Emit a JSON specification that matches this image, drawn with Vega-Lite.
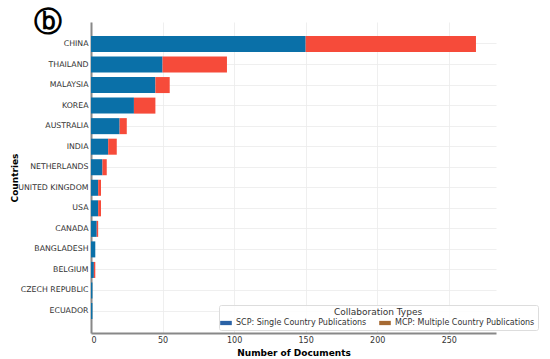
{
  "$schema": "https://vega.github.io/schema/vega-lite/v6.json",
  "autosize": "none",
  "width": 405,
  "height": 311,
  "padding": {"left": 91, "top": 22, "right": 54, "bottom": 26},
  "background": "white",
  "title": {"text": "ⓑ", "anchor": "start", "frame": "group", "dx": -57, "dy": 19, "fontSize": 28, "fontWeight": "bold", "font": "DejaVu Sans", "color": "black"},
  "data": {"values": [
    {"country": "CHINA", "type": "SCP: Single Country Publications", "value": 150},
    {"country": "CHINA", "type": "MCP: Multiple Country Publications", "value": 119},
    {"country": "THAILAND", "type": "SCP: Single Country Publications", "value": 50},
    {"country": "THAILAND", "type": "MCP: Multiple Country Publications", "value": 45},
    {"country": "MALAYSIA", "type": "SCP: Single Country Publications", "value": 45},
    {"country": "MALAYSIA", "type": "MCP: Multiple Country Publications", "value": 10},
    {"country": "KOREA", "type": "SCP: Single Country Publications", "value": 30},
    {"country": "KOREA", "type": "MCP: Multiple Country Publications", "value": 15},
    {"country": "AUSTRALIA", "type": "SCP: Single Country Publications", "value": 20},
    {"country": "AUSTRALIA", "type": "MCP: Multiple Country Publications", "value": 5},
    {"country": "INDIA", "type": "SCP: Single Country Publications", "value": 12},
    {"country": "INDIA", "type": "MCP: Multiple Country Publications", "value": 6},
    {"country": "NETHERLANDS", "type": "SCP: Single Country Publications", "value": 8},
    {"country": "NETHERLANDS", "type": "MCP: Multiple Country Publications", "value": 3},
    {"country": "UNITED KINGDOM", "type": "SCP: Single Country Publications", "value": 5},
    {"country": "UNITED KINGDOM", "type": "MCP: Multiple Country Publications", "value": 2},
    {"country": "USA", "type": "SCP: Single Country Publications", "value": 5},
    {"country": "USA", "type": "MCP: Multiple Country Publications", "value": 2},
    {"country": "CANADA", "type": "SCP: Single Country Publications", "value": 4},
    {"country": "CANADA", "type": "MCP: Multiple Country Publications", "value": 1},
    {"country": "BANGLADESH", "type": "SCP: Single Country Publications", "value": 3},
    {"country": "BANGLADESH", "type": "MCP: Multiple Country Publications", "value": 0},
    {"country": "BELGIUM", "type": "SCP: Single Country Publications", "value": 2},
    {"country": "BELGIUM", "type": "MCP: Multiple Country Publications", "value": 1},
    {"country": "CZECH REPUBLIC", "type": "SCP: Single Country Publications", "value": 1},
    {"country": "CZECH REPUBLIC", "type": "MCP: Multiple Country Publications", "value": 0},
    {"country": "ECUADOR", "type": "SCP: Single Country Publications", "value": 1},
    {"country": "ECUADOR", "type": "MCP: Multiple Country Publications", "value": 0}
  ]},
  "encoding": {
    "y": {
      "field": "country", "type": "nominal",
      "sort": ["CHINA","THAILAND","MALAYSIA","KOREA","AUSTRALIA","INDIA","NETHERLANDS","UNITED KINGDOM","USA","CANADA","BANGLADESH","BELGIUM","CZECH REPUBLIC","ECUADOR"],
      "scale": {"paddingInner": 0.22, "paddingOuter": 0.68},
      "axis": {"title": "Countries", "titleFontSize": 9, "titleFontWeight": "bold", "titleFont": "DejaVu Sans", "titleColor": "black", "titleX": -77, "titleY": 155.5, "titleAngle": -90, "titleAlign": "center", "titleBaseline": "middle",
        "labelFont": "DejaVu Sans", "labelFontSize": 7.8, "labelColor": "#333", "labelPadding": 3, "ticks": false,
        "domainColor": "#888", "domainWidth": 2, "grid": true, "gridColor": "#ebebeb", "gridWidth": 0.8}
    },
    "x": {
      "field": "value", "type": "quantitative", "aggregate": "sum", "stack": "zero",
      "scale": {"domain": [0, 283], "nice": false},
      "axis": {"title": "Number of Documents", "values": [0, 50, 100, 150, 200, 250], "titleFontSize": 9, "titleFontWeight": "bold", "titleFont": "DejaVu Sans", "titleColor": "black", "titlePadding": 4,
        "labelFont": "DejaVu Sans", "labelFontSize": 8, "labelColor": "#333", "labelPadding": 3, "ticks": false,
        "domainColor": "#888", "domainWidth": 2, "grid": true, "gridColor": "#ebebeb", "gridWidth": 0.8}
    },
    "order": {"field": "type", "sort": "descending"}
  },
  "layer": [
    {
      "mark": {"type": "bar"},
      "encoding": {
        "color": {"field": "type", "type": "nominal",
          "scale": {"domain": ["SCP: Single Country Publications", "MCP: Multiple Country Publications"], "range": ["#0a70a8", "#f64b3a"]},
          "legend": null}
      }
    },
    {
      "mark": {"type": "bar", "opacity": 0},
      "encoding": {
        "color": {"field": "type", "type": "nominal",
          "scale": {"domain": ["SCP: Single Country Publications", "MCP: Multiple Country Publications"], "range": ["#2a62a6", "#a66a33"]},
          "legend": {"title": "Collaboration Types", "orient": "none", "legendX": 128, "legendY": 283, "direction": "horizontal",
            "titleAnchor": "middle", "titleFont": "DejaVu Sans", "titleFontSize": 9, "titleFontWeight": "normal", "titleColor": "#333", "titlePadding": 2,
            "labelFont": "DejaVu Sans", "labelFontSize": 8, "labelColor": "#333", "labelOffset": 6, "columnPadding": 12,
            "symbolType": "M-1.5,-0.55L1.5,-0.55L1.5,0.55L-1.5,0.55Z", "symbolSize": 60, "symbolOpacity": 1, "symbolStrokeWidth": 0,
            "fillColor": "rgba(255,255,255,0.85)", "strokeColor": "#ddd", "padding": 3, "cornerRadius": 2}
        }
      }
    }
  ],
  "resolve": {"scale": {"color": "independent"}},
  "config": {"view": {"stroke": null}}
}
